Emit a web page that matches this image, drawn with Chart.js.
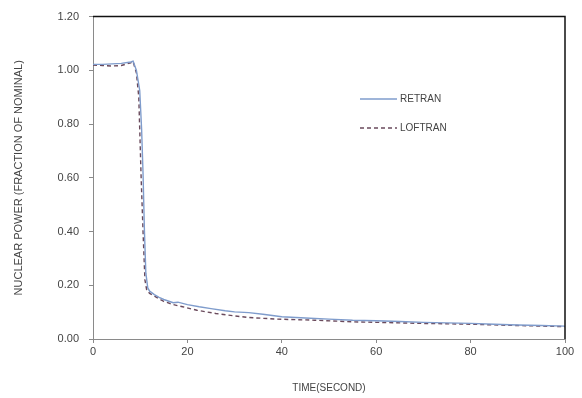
<!DOCTYPE html>
<html>
<head>
<meta charset="utf-8">
<script src="https://cdn.jsdelivr.net/npm/chart.js@4/dist/chart.umd.min.js"></script>
<style>
html,body{margin:0;padding:0;background:#fff;}
#wrap{width:582px;height:398px;position:relative;}
</style>
</head>
<body>
<div id="wrap"><canvas id="c" width="582" height="398"></canvas></div>
<script>
// Data
const retranTime  = [0, 2, 4, 6, 8, 8.5, 9.2, 9.9, 10.3, 10.6, 10.9, 11.2, 11.6, 12, 13, 14, 15, 17, 18, 20, 22.5, 25, 28, 30, 33, 36, 40, 45, 50, 55, 60, 65, 70, 75, 80, 85, 90, 95, 100];
const retranPower = [1.022, 1.022, 1.024, 1.026, 1.031, 1.034, 1.00, 0.925, 0.78, 0.617, 0.40, 0.245, 0.19, 0.178, 0.165, 0.155, 0.147, 0.135, 0.137, 0.128, 0.12, 0.113, 0.105, 0.101, 0.098, 0.092, 0.083, 0.078, 0.074, 0.07, 0.068, 0.065, 0.062, 0.06, 0.058, 0.055, 0.052, 0.05, 0.048];
const loftranTime  = [0, 2, 4, 6, 8, 8.5, 9.2, 9.7, 10.2, 10.6, 11.0, 11.4, 12, 13, 14, 15, 17, 19, 22, 26, 30, 33, 39, 47, 55, 60, 70, 80, 90, 100];
const loftranPower = [1.02, 1.018, 1.016, 1.018, 1.028, 1.032, 0.99, 0.9, 0.6, 0.4, 0.22, 0.18, 0.17, 0.16, 0.149, 0.14, 0.128, 0.12, 0.107, 0.095, 0.086, 0.08, 0.074, 0.07, 0.064, 0.062, 0.058, 0.055, 0.05, 0.046];
const seriesNames = ['RETRAN', 'LOFTRAN'];
const xTitle = 'TIME(SECOND)';
const yTitle = 'NUCLEAR POWER (FRACTION OF NOMINAL)';

const toPts = (t, v) => t.map((x, i) => ({x: x, y: v[i]}));
const FONT = '"Liberation Sans", Arial, sans-serif';
const TXT = '#444';

const framePlugin = {
  id: 'frame',
  afterDraw(chart) {
    const {ctx, chartArea: a} = chart;
    ctx.save();
    ctx.strokeStyle = '#111';
    ctx.lineWidth = 1.5;
    ctx.beginPath();
    ctx.moveTo(a.left, a.top);
    ctx.lineTo(a.right, a.top);
    ctx.lineTo(a.right, a.bottom);
    ctx.stroke();
    // custom legend
    const ds = chart.data.datasets;
    const items = [{y: 99}, {y: 128}];
    ctx.font = '10px ' + FONT;
    ctx.textBaseline = 'middle';
    ds.forEach((d, i) => {
      const y = items[i].y;
      ctx.strokeStyle = d.borderColor;
      ctx.lineWidth = d.borderWidth;
      ctx.setLineDash(d.borderDash || []);
      ctx.beginPath();
      ctx.moveTo(360, y);
      ctx.lineTo(397, y);
      ctx.stroke();
      ctx.setLineDash([]);
      ctx.fillStyle = TXT;
      ctx.textAlign = 'left';
      ctx.fillText(d.label, 400, y);
    });
    ctx.restore();
  }
};

new Chart(document.getElementById('c'), {
  type: 'line',
  data: {
    datasets: [
      {label: seriesNames[0], data: toPts(retranTime, retranPower), borderColor: '#7f9ccc', borderWidth: 1.4, pointRadius: 0, tension: 0, fill: false},
      {label: seriesNames[1], data: toPts(loftranTime, loftranPower), borderColor: '#6a4a5c', borderWidth: 1.4, borderDash: [4, 3], pointRadius: 0, tension: 0, fill: false}
    ]
  },
  options: {
    responsive: false,
    animation: false,
    devicePixelRatio: 1,
    layout: {padding: {left: 12, right: 17, top: 16, bottom: 0}},
    plugins: {legend: {display: false}, tooltip: {enabled: false}},
    scales: {
      x: {
        type: 'linear', min: 0, max: 100,
        afterFit(s) { s.height = 59; },
        ticks: {stepSize: 20, color: TXT, font: {family: FONT, size: 11}, padding: 2, maxRotation: 0},
        grid: {drawOnChartArea: false, drawTicks: true, tickLength: 4, color: '#8a8a8a'},
        border: {color: '#8a8a8a', width: 1},
        title: {display: true, text: xTitle, color: TXT, font: {family: FONT, size: 10}, padding: {top: 14}}
      },
      y: {
        min: 0, max: 1.2,
        afterFit(s) { s.width = 81; },
        ticks: {stepSize: 0.2, color: TXT, font: {family: FONT, size: 11}, padding: 10, callback: v => Number(v).toFixed(2)},
        grid: {drawOnChartArea: false, drawTicks: true, tickLength: 4, color: '#8a8a8a'},
        border: {color: '#8a8a8a', width: 1},
        title: {display: true, text: yTitle, color: TXT, font: {family: FONT, size: 11}, padding: {top: 0, bottom: 4}}
      }
    }
  },
  plugins: [framePlugin]
});
</script>
</body>
</html>
